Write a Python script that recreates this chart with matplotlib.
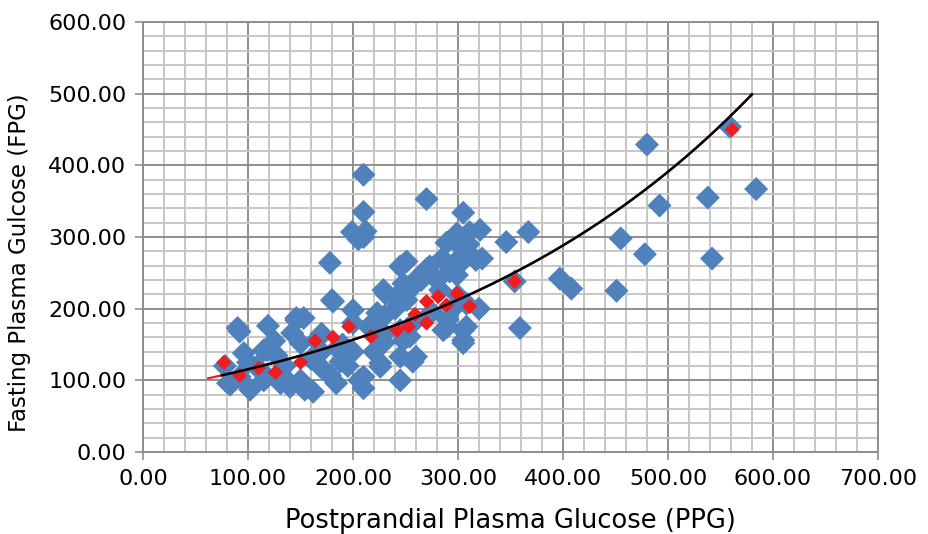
import numpy as np
import matplotlib.pyplot as plt
from matplotlib.ticker import MultipleLocator, FormatStrFormatter

# blue series: measured values (PPG, FPG)
ppg = [559, 480, 584, 538, 492, 455, 478, 542, 451, 397, 408, 354, 359, 367, 346,
       321, 305, 311, 299, 289, 303, 323, 317, 270, 210, 210, 199, 205, 210, 212,
       178, 181, 251, 245, 270, 273, 292, 299, 257, 229, 248, 283, 251, 308, 300,
       260, 286, 308, 305, 305, 248, 305, 254, 260, 257, 245, 245, 245, 229, 223,
       226, 226, 231, 230, 210, 210, 206, 184, 178, 188, 169, 165, 162, 154, 153,
       146, 146, 142, 150, 150, 140, 140, 131, 127, 119, 118, 118, 115, 115, 108,
       102, 96, 92, 92, 90, 83, 81, 78, 180, 200, 200, 215, 190, 170, 135,
       160, 200, 220, 240, 265, 280, 290, 295, 275, 285, 300, 263, 220, 230, 195,
       185, 170, 125, 100, 130, 290, 320, 300, 310, 240]
fpg = [454, 429, 367, 355, 344, 298, 276, 270, 225, 242, 228, 238, 173, 307, 293,
       310, 334, 307, 305, 292, 273, 270, 268, 353, 387, 335, 307, 297, 300, 308,
       264, 210, 266, 259, 255, 259, 252, 247, 231, 226, 235, 226, 212, 207, 218,
       184, 170, 175, 170, 156, 156, 152, 161, 133, 126, 170, 133, 100, 152, 194,
       124, 119, 221, 190, 89, 105, 100, 96, 107, 126, 119, 156, 84, 87, 187,
       187, 184, 166, 152, 100, 91, 96, 96, 135, 176, 105, 142, 142, 100, 119,
       87, 138, 105, 168, 173, 94, 96, 120, 212, 198, 180, 175, 150, 140, 120,
       130, 140, 140, 200, 240, 240, 185, 200, 195, 270, 260, 245, 180, 165, 120,
       145, 165, 155, 125, 110, 175, 200, 290, 290, 215]

# red series
red_ppg = [77, 92, 110, 126, 150, 164, 181, 196, 217, 242, 253, 259, 270, 270,
           281, 289, 299, 311, 354, 561]
red_fpg = [125, 107, 117, 111, 125, 155, 160, 175, 161, 170, 175, 192, 210, 180,
           217, 205, 221, 203, 238, 450]

# exponential trend y = a * exp(b * x)
trend_a = 85.1
trend_b = 0.00305
trend_start = 75
trend_end = 580
red_trend_start = 62

fig = plt.figure(figsize=(9.29, 5.34), dpi=100)
ax = fig.add_axes([0.154, 0.1536, 0.791, 0.805])
ax.set_xlim(0, 700)
ax.set_ylim(0, 600)

ax.xaxis.set_major_locator(MultipleLocator(100))
ax.xaxis.set_minor_locator(MultipleLocator(20))
ax.yaxis.set_major_locator(MultipleLocator(100))
ax.yaxis.set_minor_locator(MultipleLocator(20))
ax.xaxis.set_major_formatter(FormatStrFormatter('%.2f'))
ax.yaxis.set_major_formatter(FormatStrFormatter('%.2f'))

ax.set_axisbelow(True)
ax.grid(which='minor', color='#c6c6c6', lw=1.4)
ax.grid(which='major', color='#8e8e8e', lw=1.4)
ax.tick_params(which='minor', length=0)
ax.tick_params(which='major', length=6, width=1.2, color='#8e8e8e',
               labelsize=16, pad=6)
for s in ax.spines.values():
    s.set_color('#8e8e8e')
    s.set_linewidth(1.4)

ax.scatter(ppg, fpg, marker='D', s=150, color='#4F81BD', edgecolors='none', zorder=3)
ax.scatter(red_ppg, red_fpg, marker='D', s=60, color='#EE1D23', edgecolors='none', zorder=4)

xr = np.linspace(red_trend_start, trend_end, 200)
ax.plot(xr, trend_a * np.exp(trend_b * xr), color='#EE1D23', lw=1.6, zorder=5)
xt = np.linspace(trend_start, trend_end, 200)
ax.plot(xt, trend_a * np.exp(trend_b * xt), color='black', lw=1.8, zorder=6)

ax.set_xlabel('Postprandial Plasma Glucose (PPG)', fontsize=18.5, labelpad=14)
ax.set_ylabel('Fasting Plasma Gulcose (FPG)', fontsize=16.5)
ax.yaxis.set_label_coords(-0.152, 0.44)

fig.savefig('out.png', dpi=100)
